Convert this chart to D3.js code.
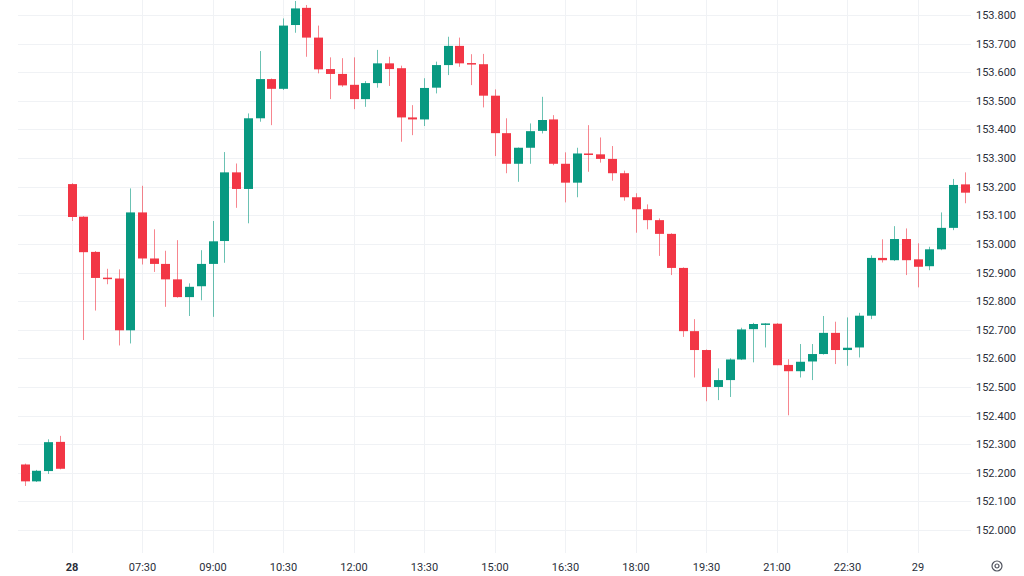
<!DOCTYPE html>
<html>
<head>
<meta charset="utf-8">
<script src="https://cdn.jsdelivr.net/npm/d3@7"></script>
<style>
  html, body { margin: 0; padding: 0; background: #ffffff; }
  svg { display: block; }
</style>
</head>
<body>
<svg id="chart" width="1024" height="576"></svg>
<script>
// ---- Data (USD/JPY-like 15 min candles) ----
const opens = [152.229,152.170,152.206,152.308,153.209,153.095,152.972,152.882,152.879,152.698,
  153.110,152.949,152.930,152.876,152.814,152.852,152.930,153.010,153.250,153.192,
  153.439,153.576,153.542,153.765,153.825,153.721,153.611,153.594,153.556,153.506,
  153.562,153.631,153.614,153.442,153.435,153.546,153.625,153.692,153.632,153.628,
  153.518,153.387,153.280,153.336,153.395,153.435,153.280,153.214,153.316,153.313,
  153.297,153.247,153.163,153.121,153.083,153.035,152.916,152.695,152.629,152.500,
  152.524,152.596,152.702,152.721,152.721,152.577,152.555,152.589,152.615,152.689,
  152.629,152.638,152.749,152.951,152.943,153.017,152.946,152.922,152.981,153.056,153.208];
const highs = [152.232,152.210,152.317,152.329,153.212,153.097,152.975,152.913,152.911,153.194,
  153.203,153.051,152.976,153.013,152.862,152.978,153.080,153.321,153.281,153.456,
  153.674,153.578,153.788,153.849,153.835,153.763,153.652,153.649,153.652,153.569,
  153.678,153.654,153.623,153.485,153.579,153.637,153.724,153.721,153.663,153.664,
  153.540,153.439,153.337,153.421,153.514,153.450,153.320,153.336,153.415,153.372,
  153.342,153.256,153.177,153.138,153.089,153.037,152.918,152.737,152.631,152.565,
  152.600,152.707,152.724,152.723,152.723,152.597,152.650,152.650,152.748,152.728,
  152.743,152.759,152.960,153.016,153.062,153.054,153.002,152.990,153.110,153.227,153.250];
const lows = [152.154,152.168,152.196,152.212,153.080,152.664,152.767,152.859,152.645,152.652,
  152.928,152.902,152.780,152.812,152.748,152.803,152.745,152.934,153.126,153.072,
  153.427,153.415,153.538,153.738,153.654,153.596,153.506,153.549,153.471,153.479,
  153.546,153.552,153.357,153.380,153.412,153.526,153.590,153.619,153.555,153.477,
  153.307,153.247,153.217,153.280,153.386,153.275,153.145,153.163,153.252,153.284,
  153.221,153.151,153.039,153.051,152.958,152.891,152.675,152.533,152.450,152.454,
  152.465,152.594,152.586,152.638,152.576,152.401,152.533,152.524,152.613,152.580,
  152.574,152.603,152.737,152.935,152.940,152.891,152.848,152.908,152.978,153.048,153.142];
const closes = [152.170,152.207,152.307,152.214,153.094,152.971,152.881,152.879,152.698,153.110,
  152.949,152.930,152.876,152.814,152.850,152.930,153.009,153.250,153.192,153.439,
  153.576,153.542,153.763,153.823,153.721,153.610,153.594,153.554,153.506,153.562,
  153.631,153.611,153.442,153.435,153.545,153.625,153.692,153.631,153.627,153.518,
  153.387,153.280,153.336,153.394,153.433,153.280,153.214,153.316,153.311,153.297,
  153.247,153.163,153.121,153.083,153.035,152.916,152.695,152.629,152.500,152.524,
  152.596,152.701,152.720,152.722,152.576,152.555,152.588,152.615,152.689,152.629,
  152.637,152.749,152.951,152.943,153.017,152.943,152.920,152.981,153.056,153.206,153.179];

// time-axis labels placed at bar indices
const xTickIndex = [4,10,16,22,28,34,40,46,52,58,64,70,76];
const xTickLabels = ["28","07:30","09:00","10:30","12:00","13:30","15:00","16:30","18:00","19:30","21:00","22:30","29"];
const xTickBold = ["28","29"].slice(0,1); // only "28" appears bold
const yTicks = [152.0,152.1,152.2,152.3,152.4,152.5,152.6,152.7,152.8,152.9,153.0,153.1,153.2,153.3,153.4,153.5,153.6,153.7,153.8];

const candles = opens.map((o, i) => ({i, o, h: highs[i], l: lows[i], c: closes[i]}));

// ---- Layout ----
const svg = d3.select("#chart");
const UP = "#089981", DOWN = "#F23645";
const x = d3.scaleLinear().domain([0, 80]).range([24.5, 964.5]);
const y = d3.scaleLinear().domain([152.0, 153.8]).range([530, 15]);
const bodyW = 9;

// grid
const grid = svg.append("g");
grid.selectAll("line.h").data(yTicks).join("line")
  .attr("x1", 18).attr("x2", 971)
  .attr("y1", d => Math.round(y(d)) + 0.5).attr("y2", d => Math.round(y(d)) + 0.5)
  .attr("stroke", "#f0f2f5").attr("stroke-width", 1);
grid.selectAll("line.v").data(xTickIndex).join("line")
  .attr("x1", d => Math.round(x(d)) + 0.5).attr("x2", d => Math.round(x(d)) + 0.5)
  .attr("y1", 0).attr("y2", 553)
  .attr("stroke", "#f0f2f5").attr("stroke-width", 1);

// candles
const cg = svg.append("g");
cg.selectAll("line.wick").data(candles).join("line")
  .attr("x1", d => Math.round(x(d.i)) + 0.5).attr("x2", d => Math.round(x(d.i)) + 0.5)
  .attr("y1", d => y(d.h)).attr("y2", d => y(d.l))
  .attr("stroke", d => d.c >= d.o ? UP : DOWN)
  .attr("stroke-opacity", 0.6)
  .attr("stroke-width", 1);
cg.selectAll("rect.body").data(candles).join("rect")
  .attr("x", d => Math.round(x(d.i)) + 0.5 - bodyW / 2)
  .attr("width", bodyW)
  .attr("y", d => y(Math.max(d.o, d.c)))
  .attr("height", d => Math.max(1.5, Math.abs(y(d.o) - y(d.c))))
  .attr("fill", d => d.c >= d.o ? UP : DOWN);

// y axis labels (right)
const yAxis = d3.axisRight(y).tickValues(yTicks).tickFormat(d3.format(".3f")).tickSize(0).tickPadding(0);
const ya = svg.append("g").attr("transform", "translate(976,0)").call(yAxis);
ya.select(".domain").remove();
ya.selectAll("text")
  .attr("font-family", "Roboto, 'Noto Sans', sans-serif")
  .attr("font-size", 11)
  .attr("fill", "#2a2e39");

// x axis labels (bottom)
const xAxis = d3.axisBottom(x).tickValues(xTickIndex)
  .tickFormat((d, k) => xTickLabels[k]).tickSize(0).tickPadding(0);
const xa = svg.append("g").attr("transform", "translate(0,563)").call(xAxis);
xa.select(".domain").remove();
xa.selectAll("text")
  .attr("font-family", "Roboto, 'Noto Sans', sans-serif")
  .attr("font-size", 11)
  .attr("fill", "#2a2e39")
  .attr("font-weight", (d, k) => xTickBold.includes(xTickLabels[k]) ? "bold" : "normal");

// settings icon
const ic = svg.append("g").attr("transform", "translate(997,566)");
ic.append("circle").attr("r", 5).attr("fill", "none").attr("stroke", "#50535e").attr("stroke-width", 1.2);
ic.append("circle").attr("r", 2).attr("fill", "none").attr("stroke", "#50535e").attr("stroke-width", 1.2);
</script>
</body>
</html>
